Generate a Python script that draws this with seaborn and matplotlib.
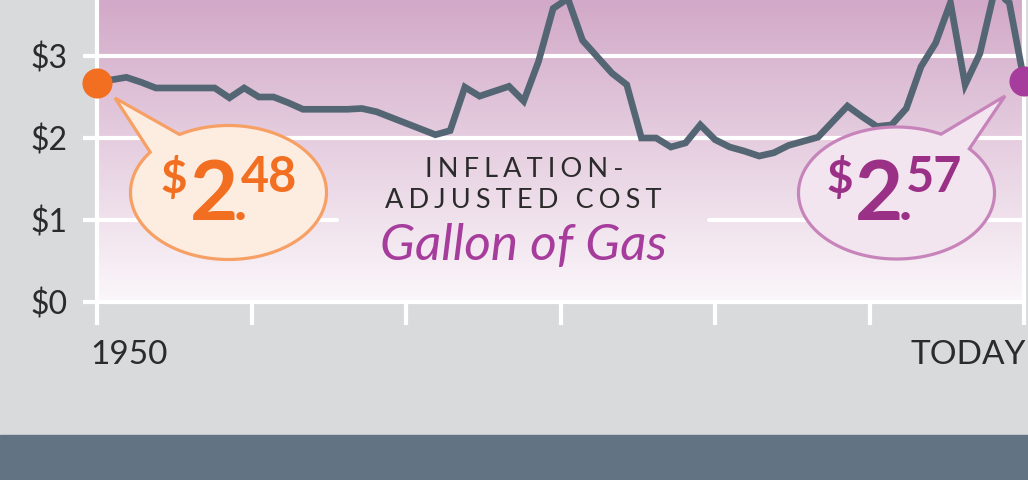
import numpy as np
import matplotlib
matplotlib.use("Agg")
import matplotlib.pyplot as plt
from matplotlib.patches import Polygon, Rectangle
from matplotlib.colors import LinearSegmentedColormap
from matplotlib.transforms import ScaledTranslation
import seaborn as sns

# Data: inflation-adjusted cost of a gallon of gas
years = np.arange(1950, 2014)
cost = [2.67, 2.71, 2.74, 2.68, 2.61, 2.61, 2.61, 2.61, 2.61, 2.49,
        2.61, 2.50, 2.50, 2.43, 2.35, 2.35, 2.35, 2.35, 2.36, 2.32,
        2.25, 2.18, 2.11, 2.04, 2.09, 2.62, 2.51, 2.57, 2.63, 2.45,
        2.93, 3.58, 3.70, 3.19, 2.99, 2.79, 2.65, 2.00, 2.00, 1.89,
        1.94, 2.16, 1.98, 1.89, 1.84, 1.78, 1.82, 1.91, 1.96, 2.01,
        2.20, 2.39, 2.26, 2.14, 2.16, 2.36, 2.87, 3.16, 3.65, 2.65,
        3.03, 3.80, 3.65, 2.70]
y_ticks = [0, 1, 2, 3]
y_labels = ["$0", "$1", "$2", "$3"]
x_labels = ["1950", "", "", "", "", "", "TODAY"]
start_price = ("$", "2", "48")
end_price = ("$", "2", "57")

GRAY = "#d9dadc"
BAND = "#627384"
LINE = "#546673"
ORANGE = "#f26f22"
PURPLE = "#a63c9b"
TEXT = "#2b2b2b"

sns.set_style("white")
plt.rcParams["font.family"] = ["Lato", "DejaVu Sans"]

fig = plt.figure(figsize=(10.28, 4.8), dpi=100, facecolor=GRAY)
fig.patches.append(Rectangle((0, 0), 1, 45 / 480, transform=fig.transFigure,
                             color=BAND, zorder=0))

ax = fig.add_axes([97 / 1028, 178 / 480, 927 / 1028, 302 / 480], zorder=1)
ymax = 302 / 82

# gradient background
grad = LinearSegmentedColormap.from_list("g", ["#fbf7fa", "#d2a9c8"])
ax.imshow(np.linspace(0, 1, 256).reshape(-1, 1), cmap=grad, origin="lower",
          extent=[years[0], years[-1], 0, ymax], aspect="auto", zorder=0)

# grid lines (the $1 line is interrupted behind the title)
ax.axhline(2, color="white", lw=3, zorder=1)
ax.axhline(3, color="white", lw=3, zorder=1)
ax.axhline(1, xmin=0, xmax=(337 - 97) / 927, color="white", lw=3, zorder=1)
ax.axhline(1, xmin=(709 - 97) / 927, xmax=1, color="white", lw=3, zorder=1)

sns.lineplot(x=years, y=cost, ax=ax, color=LINE, lw=4.8, zorder=3,
             solid_joinstyle="miter", clip_on=False)
sns.scatterplot(x=[years[0]], y=[cost[0]], ax=ax, color=ORANGE, s=470,
                linewidth=0, zorder=4, clip_on=False)
sns.scatterplot(x=[years[-1]], y=[cost[-1]], ax=ax, color=PURPLE, s=470,
                linewidth=0, zorder=4, clip_on=False)

ax.set_xlim(years[0], years[-1])
ax.set_ylim(0, ymax)
ax.set_yticks(y_ticks)
ax.set_yticklabels(y_labels)
ax.set_xticks(np.linspace(years[0], years[-1], 7))
ax.set_xticklabels(x_labels)
ax.tick_params(axis="y", left=True, direction="out", length=10, width=3,
               color="white", pad=11, labelsize=23, labelcolor=TEXT)
ax.tick_params(axis="x", bottom=True, direction="out", length=16.5, width=3,
               color="white", pad=11, labelsize=24, labelcolor=TEXT)
xl = ax.get_xticklabels()
xl[0].set_ha("left")
xl[0].set_transform(xl[0].get_transform() + ScaledTranslation(-0.07, 0, fig.dpi_scale_trans))
xl[-1].set_ha("right")
xl[-1].set_transform(xl[-1].get_transform() + ScaledTranslation(0.02, 0, fig.dpi_scale_trans))
for side in ["left", "right", "bottom"]:
    ax.spines[side].set_color("white")
    ax.spines[side].set_linewidth(3)
    ax.spines[side].set_zorder(2)
ax.spines["top"].set_visible(False)
ax.set_xlabel("")
ax.set_ylabel("")

# overlay in pixel coordinates for the speech bubbles and title
ov = fig.add_axes([0, 0, 1, 1], zorder=2)
ov.set_xlim(0, 1028)
ov.set_ylim(480, 0)
ov.axis("off")
ov.patch.set_alpha(0)


def bubble(cx, cy, rx, ry, t1, t2, tip, face, edge):
    t = np.radians(np.linspace(t2, t1 + 360, 240))
    pts = np.column_stack([cx + rx * np.cos(t), cy + ry * np.sin(t)])
    pts = np.vstack([pts, tip])
    ov.add_patch(Polygon(pts, closed=True, fc=face, ec=edge, lw=2.3,
                         joinstyle="miter"))


def price(x0, parts, color):
    d, big, cents = parts
    ov.text(x0, 193, d, fontsize=33, fontweight="bold", color=color)
    ov.text(x0 + 29, 220, big, fontsize=60, fontweight="bold", color=color)
    ov.text(x0 + 80, 192, cents, fontsize=35, fontweight="bold", color=color)
    ov.text(x0 + 79, 220, ".", fontsize=40, fontweight="bold", color=color,
            ha="center")


bubble(228.5, 192.5, 98, 67, -143, -120, (115, 98), "#fdece0", "#f7a065")
price(161, start_price, ORANGE)
bubble(896.5, 193, 98, 66, -63, -42, (1005, 96), "#f3e5f0", "#c784bb")
price(826, end_price, "#9b3187")

sp = "\u2009\u200a"
ov.text(524, 177, sp.join("INFLATION-"), fontsize=19.5, color=TEXT,
        ha="center", family=["Lato", "DejaVu Sans"])
ov.text(523, 208, sp.join("ADJUSTED COST"), fontsize=19.5, color=TEXT,
        ha="center", family=["Lato", "DejaVu Sans"])
ov.text(524, 260, "Gallon of Gas", fontsize=37, style="italic", color=PURPLE,
        ha="center")

fig.savefig("out.png", dpi=100, facecolor=GRAY)
